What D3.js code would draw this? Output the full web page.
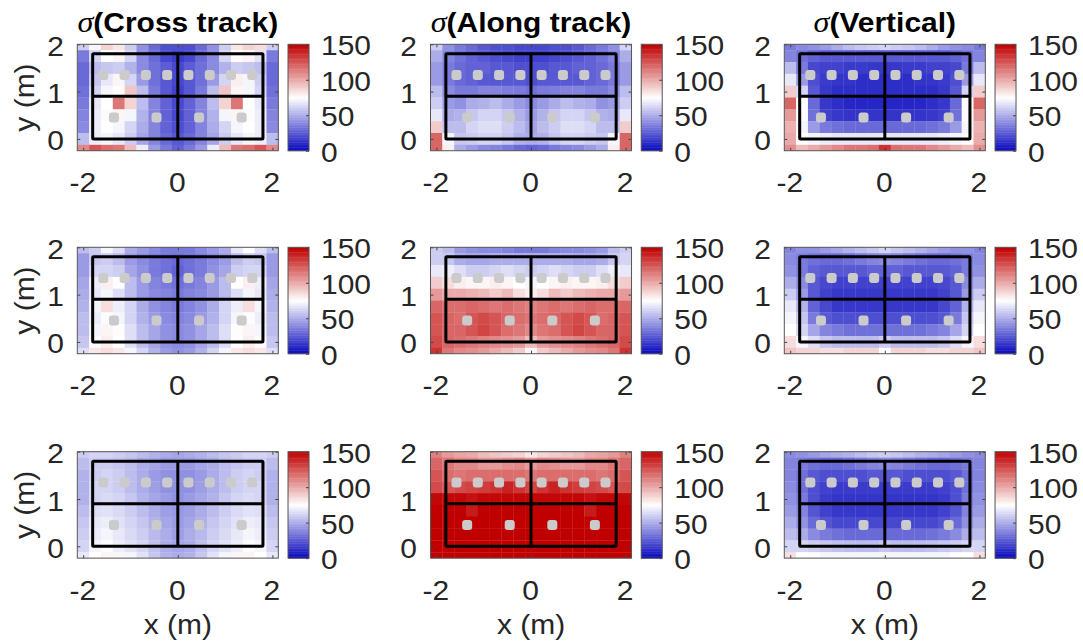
<!DOCTYPE html>
<html><head><meta charset="utf-8">
<script src="https://cdn.jsdelivr.net/npm/d3@7"></script>
<style>body{margin:0;background:#fff} svg{display:block}</style>
</head><body><svg id="c" width="1083" height="644"></svg>
<script>
// ---------- DATA ----------
const xCenters = [-2,-1.75,-1.5,-1.25,-1,-0.75,-0.5,-0.25,0,0.25,0.5,0.75,1,1.25,1.5,1.75,2];
const yCenters = [2,1.75,1.5,1.25,1,0.75,0.5,0.25,0,-0.25]; // rows, top to bottom
const xTicks = [-2,0,2];
const yTicks = [0,1,2];
const cbTicks = [0,50,100,150];
const titles = ["Cross track","Along track","Vertical"];
const boxX = [-1.8, 0, 1.8];
const boxY = [0, 0.9, 1.8];
const dotsTopX = [-1.575,-1.125,-0.675,-0.225,0.225,0.675,1.125,1.575];
const dotsTopY = 1.35;
const dotsBotX = [-1.35,-0.45,0.45,1.35];
const dotsBotY = 0.45;

const crossTrackTop = [
 [60,78,88,82,60,42,30,22,22,22,30,42,60,82,88,85,60],
 [35,62,75,78,62,40,30,20,16,20,30,40,62,76,78,66,35],
 [30,55,58,60,52,40,32,26,20,26,32,40,52,60,58,55,30],
 [30,58,68,78,62,45,32,25,20,25,32,45,62,80,72,60,30],
 [32,62,72,76,92,55,35,25,18,25,35,55,92,78,72,62,32],
 [35,68,75,115,88,55,38,28,20,28,38,55,88,115,75,68,35],
 [38,70,74,78,72,52,38,28,20,28,38,52,72,78,74,70,38],
 [40,70,75,72,62,50,38,28,22,28,38,50,62,72,75,70,40],
 [55,70,72,68,60,48,38,30,25,30,38,48,60,68,72,70,55],
 [110,125,118,115,95,70,45,35,28,35,45,70,95,115,118,125,110]
];
const alongTrackTop = [
 [60,42,35,30,25,22,22,20,20,20,22,22,25,30,35,42,62],
 [50,38,32,28,25,22,20,18,18,18,20,22,25,28,32,38,50],
 [45,35,30,28,28,25,25,22,22,22,25,25,28,28,30,35,45],
 [45,35,30,28,25,25,25,25,22,25,25,25,25,28,30,35,45],
 [55,40,35,35,38,38,36,35,32,35,36,38,38,35,35,40,55],
 [60,45,42,50,52,55,50,45,40,45,50,55,52,50,42,45,60],
 [68,50,52,58,62,62,58,52,45,52,58,62,62,58,52,50,68],
 [90,55,55,62,65,65,60,55,48,55,60,65,65,62,55,55,90],
 [120,72,58,60,62,62,58,52,50,52,58,62,62,60,58,72,120],
 [120,80,50,45,40,38,35,30,28,30,35,38,40,45,50,80,120]
];
const verticalTop = [
 [35,40,42,45,50,55,58,60,62,60,58,55,50,45,42,40,35],
 [38,32,28,25,25,25,25,25,25,25,25,25,25,25,28,32,38],
 [55,35,20,18,18,16,16,15,15,15,16,16,18,18,20,35,55],
 [68,45,22,16,14,14,12,12,12,12,12,14,14,16,22,45,68],
 [90,62,25,15,12,12,12,12,12,12,12,12,12,15,25,62,90],
 [120,76,30,15,12,10,10,10,10,10,10,10,12,15,30,76,120],
 [105,74,32,18,15,14,14,14,14,14,14,14,15,18,32,74,105],
 [98,72,45,35,32,30,30,30,30,30,30,30,32,35,45,72,98],
 [100,76,72,70,68,68,68,68,68,68,68,68,68,70,72,76,100],
 [108,95,100,105,110,115,115,118,135,118,115,115,110,105,100,95,108]
];
const crossTrackMid = [
 [55,60,72,65,50,45,40,35,35,35,40,45,50,68,75,65,55],
 [45,58,60,55,45,40,35,32,30,32,35,40,45,55,60,58,45],
 [45,62,62,60,48,42,35,32,28,32,35,42,48,60,62,62,45],
 [48,70,80,75,55,45,38,35,32,35,38,45,55,75,80,70,48],
 [50,68,72,65,55,45,40,38,35,38,40,45,55,65,72,68,50],
 [52,72,85,70,62,50,42,38,35,38,42,50,62,70,85,72,52],
 [55,70,74,72,62,52,45,40,38,40,45,52,62,72,74,70,55],
 [55,72,78,76,65,55,48,42,40,42,48,55,65,76,78,72,55],
 [58,74,80,75,65,55,48,42,40,42,48,55,65,75,80,74,58],
 [65,82,85,82,72,62,52,45,42,45,52,62,72,82,85,82,65]
];
const alongTrackMid = [
 [60,55,45,42,40,40,38,35,35,35,38,40,40,42,45,55,60],
 [60,58,50,48,48,50,50,50,50,50,50,50,48,48,50,58,62],
 [68,70,65,60,60,62,65,62,60,62,65,62,60,60,65,70,68],
 [90,85,80,78,78,80,78,75,72,75,78,80,78,78,80,85,90],
 [105,100,100,98,95,90,95,85,80,85,95,90,95,98,100,100,105],
 [120,118,118,120,118,115,118,115,112,115,118,115,118,120,118,118,120],
 [125,120,118,125,128,125,120,118,115,118,120,125,128,125,118,120,125],
 [125,120,120,125,130,125,118,115,110,115,118,125,130,125,120,120,125],
 [128,120,118,115,112,110,108,105,95,105,108,110,112,115,118,120,128],
 [135,115,110,108,105,100,95,90,78,90,95,100,105,108,110,115,135]
];
const verticalMid = [
 [38,42,42,45,48,52,55,58,62,58,55,52,48,45,42,42,38],
 [40,35,32,30,30,32,35,38,40,38,35,32,30,30,32,35,40],
 [42,35,28,25,25,25,25,28,28,28,25,25,25,25,28,35,42],
 [50,40,25,20,18,18,18,18,18,18,18,18,18,20,25,40,50],
 [60,45,25,18,15,15,15,15,15,15,15,15,15,18,25,45,60],
 [68,52,28,20,15,15,15,15,15,15,15,15,15,20,28,52,68],
 [72,58,35,25,22,22,22,22,22,22,22,22,22,25,35,58,72],
 [75,62,48,38,35,32,32,32,32,32,32,32,35,38,48,62,75],
 [85,72,65,58,55,55,55,55,60,55,55,55,55,58,65,72,85],
 [92,88,88,85,85,88,88,88,75,88,88,88,85,85,88,88,92]
];
const crossTrackBot = [
 [60,62,62,60,58,55,52,50,48,50,52,55,58,60,62,62,60],
 [55,60,60,58,55,50,48,45,45,45,48,50,55,58,60,60,55],
 [52,60,62,60,55,50,45,42,42,42,45,50,55,60,62,60,52],
 [52,62,62,60,55,50,46,42,42,42,46,50,55,60,62,62,52],
 [52,62,64,62,58,52,48,45,42,45,48,52,58,62,64,62,52],
 [55,65,66,64,60,55,50,46,44,46,50,55,60,64,66,65,55],
 [58,68,70,66,62,58,52,48,45,48,52,58,62,66,70,68,58],
 [60,70,72,68,64,60,54,50,46,50,54,60,64,68,72,70,60],
 [62,72,74,70,66,62,56,50,48,50,56,62,66,70,74,72,62],
 [68,75,78,78,72,66,58,52,50,52,58,66,72,78,78,75,68]
];
const alongTrackBot = [
 [112,105,102,100,95,92,90,88,82,88,90,92,95,100,102,105,112],
 [120,115,110,110,105,105,108,110,105,110,108,105,105,110,110,115,120],
 [125,118,115,118,118,118,118,118,115,118,118,118,118,118,115,118,125],
 [128,125,128,130,132,135,140,135,130,135,140,135,132,130,128,125,128],
 [148,148,148,145,148,148,148,148,148,148,148,148,148,145,148,148,148],
 [150,150,150,142,150,150,150,150,150,150,150,150,150,142,150,150,150],
 [150,150,150,150,150,150,150,150,150,150,150,150,150,150,150,150,150],
 [150,150,150,150,150,150,150,150,150,150,150,150,150,150,150,150,150],
 [150,150,150,150,150,150,150,150,150,150,150,150,150,150,150,150,150],
 [150,150,150,150,150,150,150,150,150,150,150,150,150,150,150,150,150]
];
const verticalBot = [
 [40,42,45,48,50,52,55,58,60,58,55,52,50,48,45,42,40],
 [38,35,32,30,30,32,35,38,40,38,35,32,30,30,32,35,38],
 [38,32,25,22,22,22,22,25,25,25,22,22,22,22,25,32,38],
 [40,32,22,18,16,16,16,16,16,16,16,16,16,18,22,32,40],
 [42,35,22,16,14,14,14,14,14,14,14,14,14,16,22,35,42],
 [45,38,24,18,15,15,15,15,15,15,15,15,15,18,24,38,45],
 [50,42,30,24,20,20,20,20,20,20,20,20,20,24,30,42,50],
 [55,50,40,35,32,30,30,30,30,30,30,30,32,35,40,50,55],
 [62,62,60,58,56,55,55,55,58,55,55,55,56,58,60,62,62],
 [85,75,74,72,72,72,72,72,72,72,72,72,72,72,74,75,85]
];
const panels = [
 [crossTrackTop, alongTrackTop, verticalTop],
 [crossTrackMid, alongTrackMid, verticalMid],
 [crossTrackBot, alongTrackBot, verticalBot]
];

// ---------- LAYOUT ----------
const colLeft = [77.3, 430.5, 784.3];
const rowTop = [44.3, 247.3, 451.7];
const pxPerM = 47.3;
const xDom = [-2.125, 2.125], yDom = [-0.25, 2.0];
const W = (xDom[1]-xDom[0])*pxPerM, H = (yDom[1]-yDom[0])*pxPerM;
const cbOffset = 9.7, cbW = 21;
const FS = 27, SX = 1.11;
const FONT = "'Liberation Sans', Arial, Helvetica, sans-serif";
const TXT = "#262626";

const color = d3.scaleLinear().domain([0,75,150])
  .range(["#0505bd","#ffffff","#c00000"]).interpolate(d3.interpolateRgb).clamp(true);

const svg = d3.select("#c");
const defs = svg.append("defs");

function stretchText(sel, x, y){
  sel.attr("x",0).attr("y",0).attr("dy",null)
     .attr("transform",`translate(${x},${y}) scale(${SX},1)`);
}

panels.forEach((rowPanels, r) => {
  rowPanels.forEach((data, c) => {
    const L = colLeft[c], T = rowTop[r];
    const x = d3.scaleLinear().domain(xDom).range([L, L+W]);
    const y = d3.scaleLinear().domain(yDom).range([T+H, T]);
    const id = `clip${r}${c}`;
    defs.append("clipPath").attr("id",id).append("rect")
      .attr("x",L).attr("y",T).attr("width",W).attr("height",H);
    const g = svg.append("g");
    const cells = g.append("g").attr("clip-path",`url(#${id})`);
    const half = 0.125;
    data.forEach((row, ri) => {
      cells.selectAll(null).data(row).enter().append("rect")
        .attr("x",(d,ci)=>x(xCenters[ci]-half))
        .attr("y",y(yCenters[ri]+half))
        .attr("width",(d,ci)=>x(xCenters[ci]+half)-x(xCenters[ci]-half)+0.3)
        .attr("height",y(yCenters[ri]-half)-y(yCenters[ri]+half)+0.3)
        .attr("fill",d=>color(d));
    });
    // black frame
    const fr = g.append("g").attr("stroke","#000").attr("stroke-width",3).attr("fill","none");
    fr.append("rect").attr("x",x(boxX[0])).attr("y",y(boxY[2]))
      .attr("width",x(boxX[2])-x(boxX[0])).attr("height",y(boxY[0])-y(boxY[2]))
      .attr("rx",1);
    fr.append("line").attr("x1",x(boxX[0])).attr("x2",x(boxX[2])).attr("y1",y(boxY[1])).attr("y2",y(boxY[1]));
    fr.append("line").attr("x1",x(boxX[1])).attr("x2",x(boxX[1])).attr("y1",y(boxY[0])).attr("y2",y(boxY[2]));
    // dots
    const ds = 10;
    const dots = dotsTopX.map(v=>[v,dotsTopY]).concat(dotsBotX.map(v=>[v,dotsBotY]));
    g.selectAll(null).data(dots).enter().append("rect")
      .attr("x",d=>x(d[0])-ds/2).attr("y",d=>y(d[1])-ds/2)
      .attr("width",ds).attr("height",ds).attr("rx",3).attr("fill","#cbcbcb");
    // axes ticks (inside)
    const ax = svg.append("g");
    const bottom = ax.append("g").attr("transform",`translate(0,${T+H})`)
      .call(d3.axisBottom(x).tickValues(xTicks).tickSize(-3).tickSizeOuter(0).tickFormat(d3.format("")));
    const top = ax.append("g").attr("transform",`translate(0,${T})`)
      .call(d3.axisTop(x).tickValues(xTicks).tickSize(-3).tickSizeOuter(0).tickFormat(""));
    const left = ax.append("g").attr("transform",`translate(${L},0)`)
      .call(d3.axisLeft(y).tickValues(yTicks).tickSize(-3).tickSizeOuter(0).tickFormat(d3.format("")));
    const right = ax.append("g").attr("transform",`translate(${L+W},0)`)
      .call(d3.axisRight(y).tickValues(yTicks).tickSize(-3).tickSizeOuter(0).tickFormat(""));
    ax.selectAll(".domain").remove();
    ax.selectAll(".tick line").attr("stroke","#444").attr("stroke-width",1);
    ax.selectAll("text").attr("font-family",FONT).attr("font-size",FS).attr("fill",TXT);
    bottom.selectAll("text").attr("text-anchor","middle").each(function(){ stretchText(d3.select(this), -1, 41.5); });
    bottom.selectAll("text").text(d => d < 0 ? "-" + Math.abs(d) : d);
    left.selectAll("text").attr("text-anchor","end").each(function(){ stretchText(d3.select(this), -13.5, 11); });
    ax.append("rect").attr("x",L).attr("y",T).attr("width",W).attr("height",H)
      .attr("fill","none").attr("stroke","#555").attr("stroke-width",1);

    // colorbar
    const cbL = L + W + cbOffset;
    const cy = d3.scaleLinear().domain([0,150]).range([T+H, T]);
    const nb = 64;
    const bands = d3.range(nb).map(i => (i+0.5)*150/nb);
    svg.append("g").selectAll(null).data(bands).enter().append("rect")
      .attr("x",cbL).attr("width",cbW)
      .attr("y",d=>cy(d+75/nb)).attr("height",(cy(0)-cy(150/nb))+0.4)
      .attr("fill",d=>color(d));
    const cbAx = svg.append("g").attr("transform",`translate(${cbL+cbW},0)`)
      .call(d3.axisRight(cy).tickValues(cbTicks).tickSize(-3).tickSizeOuter(0));
    cbAx.select(".domain").remove();
    cbAx.selectAll(".tick line").attr("stroke","#444");
    cbAx.selectAll("text").attr("font-family",FONT).attr("font-size",FS).attr("fill",TXT)
      .attr("text-anchor","start").each(function(){ stretchText(d3.select(this), 12, 10.5); });
    svg.append("rect").attr("x",cbL).attr("y",T).attr("width",cbW).attr("height",H)
      .attr("fill","none").attr("stroke","#555").attr("stroke-width",1);

    // titles (top row)
    if (r === 0) {
      const t = svg.append("text").attr("text-anchor","middle").attr("fill","#000")
        .attr("font-family",FONT).attr("font-size",FS).attr("font-weight","bold");
      t.append("tspan").attr("font-family","'Liberation Serif', 'Times New Roman', serif")
        .attr("font-style","italic").attr("font-weight","normal").attr("font-size",FS+2).text("σ");
      t.append("tspan").text("(" + titles[c] + ")");
      stretchText(t, L + W/2, 32);
    }
    // y label (first column)
    if (c === 0) {
      svg.append("text").attr("text-anchor","middle").attr("fill",TXT)
        .attr("font-family",FONT).attr("font-size",FS)
        .attr("transform",`translate(34,${T+H/2}) rotate(-90) scale(${SX},1)`)
        .text("y (m)");
    }
    // x label (last row)
    if (r === 2) {
      const xl = svg.append("text").attr("text-anchor","middle").attr("fill",TXT)
        .attr("font-family",FONT).attr("font-size",FS).text("x (m)");
      stretchText(xl, L + W/2, 634);
    }
  });
});
</script></body></html>
